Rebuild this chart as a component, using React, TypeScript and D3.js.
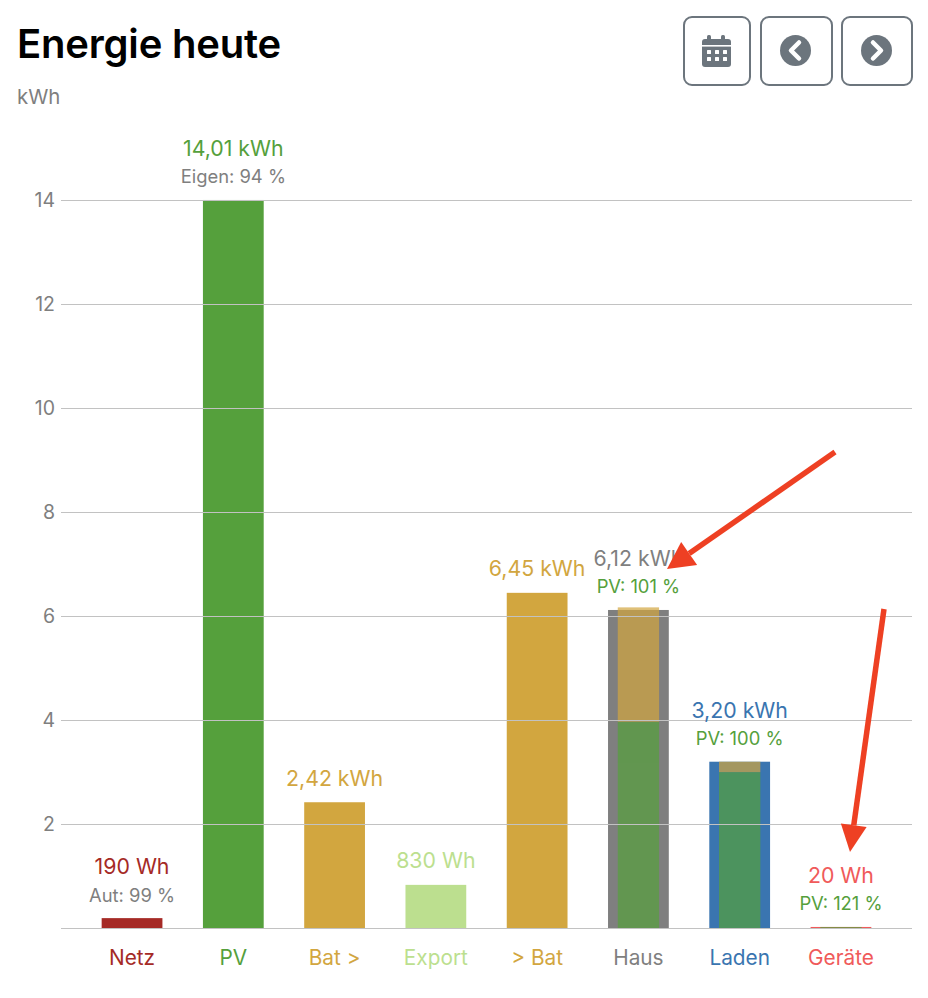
import React from "react";
import * as d3 from "d3";

const categories = ["Netz", "PV", "Bat >", "Export", "> Bat", "Haus", "Laden", "Geräte"];
const totals = [0.19, 14.01, 2.42, 0.83, 6.45, 6.12, 3.2, 0.02];
const pvShare = [0, 0, 0, 0, 0, 3.97, 3.0, 0.02];
const batShare = [0, 0, 0, 0, 0, 2.2, 0.2, 0.0];
const valueLabels = ["190 Wh", "14,01 kWh", "2,42 kWh", "830 Wh", "6,45 kWh", "6,12 kWh", "3,20 kWh", "20 Wh"];
const subLabels = ["Aut: 99 %", "Eigen: 94 %", "", "", "", "PV: 101 %", "PV: 100 %", "PV: 121 %"];
const subColors = ["#7f7f7f", "#7f7f7f", "", "", "", "#55a03c", "#55a03c", "#55a03c"];
const barColors = ["#a52a26", "#55a03c", "#d2a63f", "#bcdf8f", "#d2a63f", "#7f7f7f", "#3a75b0", "#f05a5a"];
const yTicks = [2, 4, 6, 8, 10, 12, 14];

const FONT = "Inter, 'Noto Sans', sans-serif";
const PV = "#55a03c";
const BAT = "#d2a63f";
const BTN = "#6c757d";
const RED = "#ee4023";

function Arrow({ x1, y1, x2, y2, head, halfWidth }: { x1: number; y1: number; x2: number; y2: number; head: number; halfWidth: number }) {
  const a = Math.atan2(y2 - y1, x2 - x1);
  const ux = Math.cos(a), uy = Math.sin(a);
  const bx = x2 - ux * head, by = y2 - uy * head;
  const pts = [[x2, y2], [bx - uy * halfWidth, by + ux * halfWidth], [bx + uy * halfWidth, by - ux * halfWidth]];
  return (
    <g>
      <line x1={x1} y1={y1} x2={bx} y2={by} stroke={RED} strokeWidth={5.5} />
      <polygon points={pts.map((p) => p.join(",")).join(" ")} fill={RED} />
    </g>
  );
}

export default function App() {
  const x = d3.scaleBand<string>().domain(categories).range([81.4, 891.6]).paddingInner(0.4).paddingOuter(0.2);
  const y = d3.scaleLinear().domain([0, 14]).range([928, 200.5]);
  const bw = x.bandwidth();
  const innerW = bw * 0.68;
  return (
    <svg width={928} height={998} style={{ position: "absolute", left: 0, top: 0, display: "block", background: "#fff" }} fontFamily={FONT}>
      <text x={17} y={58} fontSize={40} fontWeight={600} fill="#000" letterSpacing={-0.2}>Energie heute</text>
      <text x={17} y={103.5} fontSize={20.4} fill="#7f7f7f">kWh</text>

      {/* toolbar buttons */}
      <g fill="none" stroke={BTN} strokeWidth={2}>
        <rect x={684} y={17} width={66} height={68} rx={8} />
        <rect x={761} y={17} width={71} height={68} rx={8} />
        <rect x={842} y={17} width={70} height={68} rx={8} />
      </g>
      <g fill={BTN}>
        <rect x={702} y={39} width={29} height={28} rx={3} />
        <rect x={707} y={35} width={4} height={7} rx={1.5} />
        <rect x={721} y={35} width={4} height={7} rx={1.5} />
      </g>
      <rect x={702} y={45} width={29} height={1.6} fill="#fff" />
      <g fill="#fff">
        {[0, 1, 2].flatMap((c) => [0, 1].map((r) => (
          <rect key={`${c}-${r}`} x={707 + c * 8} y={50 + r * 7} width={4} height={4} rx={0.5} />
        )))}
      </g>
      <circle cx={795.5} cy={50.5} r={15.5} fill={BTN} />
      <path d="M799 42.5 L791 50.5 L799 58.5" fill="none" stroke="#fff" strokeWidth={4.5} strokeLinecap="round" strokeLinejoin="round" />
      <circle cx={876.5} cy={50.5} r={15.5} fill={BTN} />
      <path d="M873 42.5 L881 50.5 L873 58.5" fill="none" stroke="#fff" strokeWidth={4.5} strokeLinecap="round" strokeLinejoin="round" />

      {/* tick labels */}
      {yTicks.map((t) => (
        <text key={t} x={55} y={y(t) + 6.8} textAnchor="end" fontSize={19.5} fill="#7f7f7f">{t}</text>
      ))}

      {/* bars */}
      {categories.map((c, i) => (
        <rect key={c} x={x(c)} y={y(totals[i])} width={bw} height={y(0) - y(totals[i])} fill={barColors[i]} />
      ))}
      {categories.map((c, i) => {
        if (!pvShare[i]) return null;
        const ix = (x(c) as number) + (bw - innerW) / 2;
        const top = pvShare[i] + batShare[i];
        return (
          <g key={c} opacity={0.7}>
            <rect x={ix} y={y(pvShare[i])} width={innerW} height={y(0) - y(pvShare[i])} fill={PV} />
            <rect x={ix} y={y(top)} width={innerW} height={y(pvShare[i]) - y(top)} fill={BAT} />
          </g>
        );
      })}

      {/* grid */}
      <g stroke="#c2c2c2" strokeWidth={1}>
        {yTicks.map((t) => (
          <line key={t} x1={61} x2={912} y1={Math.floor(y(t)) + 0.5} y2={Math.floor(y(t)) + 0.5} />
        ))}
        <line x1={61} x2={912} y1={928.5} y2={928.5} />
      </g>

      {/* value labels */}
      {categories.map((c, i) => {
        const cx = (x(c) as number) + bw / 2;
        const hasSub = subLabels[i] !== "";
        const base = y(totals[i]) - (hasSub ? 44 : 16.5);
        return (
          <g key={c} textAnchor="middle">
            <text x={cx} y={base} fontSize={21.3} fill={barColors[i]}>{valueLabels[i]}</text>
            {hasSub && <text x={cx} y={base + 27.5} fontSize={18.4} fill={subColors[i]}>{subLabels[i]}</text>}
            <text x={cx} y={964.5} fontSize={20.8} fill={barColors[i]}>{c}</text>
          </g>
        );
      })}

      <Arrow x1={835} y1={452} x2={667} y2={569} head={27} halfWidth={14} />
      <Arrow x1={884} y1={609} x2={850} y2={852} head={27} halfWidth={13} />
    </svg>
  );
}
